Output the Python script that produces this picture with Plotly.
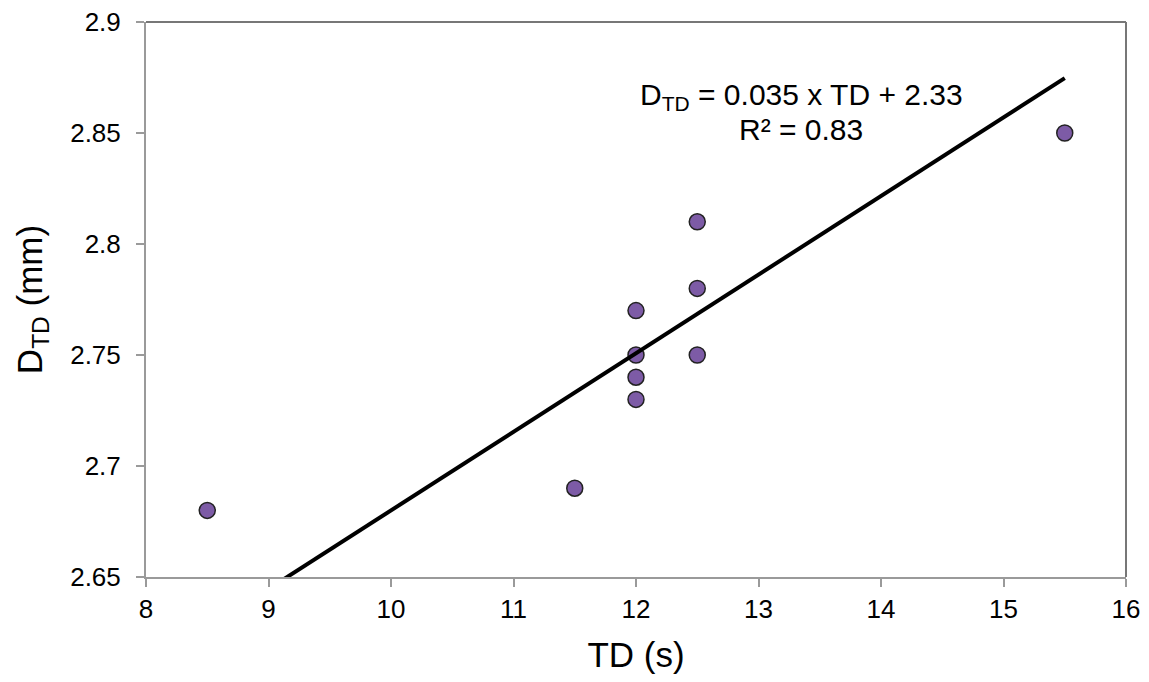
import plotly.graph_objects as go

td = [8.5, 11.5, 12, 12, 12, 12, 12.5, 12.5, 12.5, 15.5]
dtd = [2.68, 2.69, 2.73, 2.74, 2.75, 2.77, 2.75, 2.78, 2.81, 2.85]
# trendline as drawn (label shows rounded coefficients)
slope = 0.0354
intercept = 2.326
fit_x = [9.0, 15.5]
fit_y = [slope * v + intercept for v in fit_x]
x_ticks = [8, 9, 10, 11, 12, 13, 14, 15, 16]
y_ticks = [2.65, 2.7, 2.75, 2.8, 2.85, 2.9]
y_tick_text = ["2.65", "2.7", "2.75", "2.8", "2.85", "2.9"]
eq_text = "D<sub>TD</sub> = 0.035 x TD + 2.33"
r2_text = "R² = 0.83"

fig = go.Figure()
fig.add_trace(go.Scatter(
    x=td, y=dtd, mode="markers",
    marker=dict(size=16, color="#7D5BA6", line=dict(color="#222222", width=1.5)),
    showlegend=False, cliponaxis=True))
fig.add_trace(go.Scatter(
    x=fit_x, y=fit_y, mode="lines",
    line=dict(color="black", width=4),
    showlegend=False))

font = "Arial, Liberation Sans, sans-serif"
fig.update_layout(
    width=1149, height=682,
    margin=dict(l=146, r=23, t=22, b=105),
    paper_bgcolor="white", plot_bgcolor="white",
    font=dict(family=font, color="black"),
    xaxis=dict(range=[8, 16], tickvals=x_ticks, showgrid=False, zeroline=False,
               automargin=False,
               showline=True, linecolor="#9a9a9a", linewidth=2, mirror=False,
               ticks="outside", ticklen=8, tickcolor="#9a9a9a", tickwidth=2,
               tickfont=dict(size=26, family=font, color="black"),
               title=dict(text="TD (s)", font=dict(size=35, family=font, color="black"), standoff=19)),
    yaxis=dict(range=[2.65, 2.9], tickvals=y_ticks, ticktext=y_tick_text, showgrid=False, zeroline=False,
               automargin=False,
               showline=True, linecolor="#9a9a9a", linewidth=2,
               ticks="outside", ticklen=8, tickcolor="#9a9a9a", tickwidth=2,
               ticklabelstandoff=10,
               tickfont=dict(size=26, family=font, color="black"),
               title=dict(text="D<sub>TD</sub> (mm)", font=dict(size=35, family=font, color="black"), standoff=17)),
    shapes=[
        dict(type="line", xref="paper", yref="paper", x0=0, x1=1, y0=1, y1=1,
             line=dict(color="#777777", width=2)),
        dict(type="line", xref="paper", yref="paper", x0=1, x1=1, y0=0, y1=1,
             line=dict(color="#777777", width=2)),
    ],
    annotations=[
        dict(x=13.35, y=2.8663, xref="x", yref="y", text=eq_text,
             showarrow=False, yanchor="middle", xanchor="center",
             font=dict(size=30, family=font, color="black")),
        dict(x=13.35, y=2.8515, xref="x", yref="y", text=r2_text,
             showarrow=False, yanchor="middle", xanchor="center",
             font=dict(size=30, family=font, color="black")),
    ],
)
fig.write_html("out.html")
